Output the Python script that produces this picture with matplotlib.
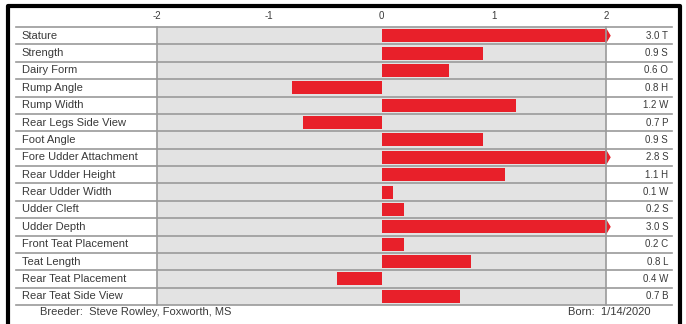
import matplotlib.pyplot as plt
from matplotlib.lines import Line2D
from matplotlib.patches import Polygon
import numpy as np

plt.rcParams['font.family'] = ['Liberation Sans', 'DejaVu Sans']

traits = ["Stature", "Strength", "Dairy Form", "Rump Angle", "Rump Width",
          "Rear Legs Side View", "Foot Angle", "Fore Udder Attachment",
          "Rear Udder Height", "Rear Udder Width", "Udder Cleft", "Udder Depth",
          "Front Teat Placement", "Teat Length", "Rear Teat Placement",
          "Rear Teat Side View"]
values = [3.0, 0.9, 0.6, -0.8, 1.2, -0.7, 0.9, 2.8, 1.1, 0.1, 0.2, 3.0,
          0.2, 0.8, -0.4, 0.7]
codes = ["T", "S", "O", "H", "W", "P", "S", "S", "H", "W", "S", "S",
         "C", "L", "W", "B"]
ticks = [-2, -1, 0, 1, 2]

red = "#e8202a"
grid = "#9a9a9a"
txt = "#3a3a3a"

W, H = 686, 324
fig = plt.figure(figsize=(W / 100, H / 100), dpi=100)
ax = fig.add_axes([157 / W, 19 / H, (606 - 157) / W, (305 - 27) / H])
ax.set_facecolor("#e3e3e3")

n = len(traits)
y = np.arange(n)
shown = np.clip(values, -2, 2)
ax.barh(y, shown, height=0.75, color=red, zorder=2)

# little arrow tip on bars that run past the scale
for yi, v in zip(y, values):
    if v > 2:
        ax.add_patch(Polygon([[2, yi - 0.375], [2.035, yi], [2, yi + 0.375]],
                             closed=True, color=red, zorder=2, clip_on=False))

ax.set_xlim(-2, 2)
ax.set_ylim(n - 0.5, -0.5)

# row separators, running through the label and value columns too
xl = -2 - (157 - 16) / 112
xr = 2 + (672 - 606) / 112
for b in np.arange(n + 1) - 0.5:
    ax.plot([xl, xr], [b, b], color=grid, lw=1.2, clip_on=False, zorder=3)

for sp in ["top", "bottom"]:
    ax.spines[sp].set_visible(False)
for sp in ["left", "right"]:
    ax.spines[sp].set_color(grid)
    ax.spines[sp].set_linewidth(1.2)

ax.xaxis.tick_top()
ax.set_xticks(ticks)
ax.set_xticklabels([str(t) for t in ticks], fontsize=7, color=txt)
ax.tick_params(axis="x", length=0, pad=4)
ax.set_yticks([])

for yi, name in zip(y, traits):
    ax.text(xl + 6 / 112, yi, name, fontsize=8, color=txt, va="center", ha="left",
            clip_on=False)
for yi, v, c in zip(y, values, codes):
    ax.text(xr - 4 / 112, yi, "%.1f %s" % (abs(v), c), fontsize=7, color=txt,
            va="center", ha="right", clip_on=False)

fig.text(40 / W, 1 - 312 / H, "Breeder:  Steve Rowley, Foxworth, MS", fontsize=8,
         color=txt, va="center", ha="left")
fig.text(650 / W, 1 - 312 / H, "Born:  1/14/2020", fontsize=8,
         color=txt, va="center", ha="right")

# black frame, open at the bottom
fx = [8 / W, 8 / W, 680 / W, 680 / W]
fy = [0, 1 - 6 / H, 1 - 6 / H, 0]
fig.add_artist(Line2D(fx, fy, color="black", lw=3, transform=fig.transFigure))

fig.savefig("out.png", dpi=100)
